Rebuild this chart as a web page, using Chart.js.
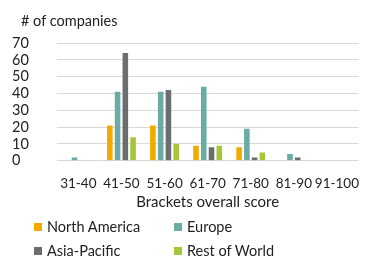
<!DOCTYPE html>
<html>
<head>
<meta charset="utf-8">
<script src="https://cdn.jsdelivr.net/npm/chart.js@4"></script>
<style>
  html, body { margin: 0; padding: 0; background: #fff; }
  #wrap { position: relative; width: 366px; height: 258px; }
  #title { position: absolute; left: 21px; top: 11px; font: 14.5px Lato, sans-serif; color: #222; line-height: 20px; white-space: nowrap; }
  #legend { position: absolute; left: 34px; top: 217px; width: 330px; font: 14.5px Lato, sans-serif; color: #222; }
  .item { position: absolute; display: flex; align-items: center; white-space: nowrap; line-height: 20px; }
  .box { width: 8px; height: 8px; margin-right: 5px; }
</style>
</head>
<body>
<div id="wrap">
  <canvas id="chart" width="366" height="258"></canvas>
  <div id="title"># of companies</div>
  <div id="legend"></div>
</div>
<script>
// Score brackets and number of companies per region
const brackets = ['31-40', '41-50', '51-60', '61-70', '71-80', '81-90', '91-100'];
const northAmerica = [0, 21, 21, 9, 8, 0, 0];
const europe = [2, 41, 41, 44, 19, 4, 0];
const asiaPacific = [0, 64, 42, 8, 2, 2, 0];
const restOfWorld = [0, 14, 10, 9, 5, 0, 0];
const yTicks = [0, 10, 20, 30, 40, 50, 60, 70];

const colors = {
    na: '#f2a900',
    eu: '#6aaca5',
    ap: '#6b6d6e',
    row: '#a6c63a'
};

const yFont = { family: 'Lato, sans-serif', size: 14.5 };
const xFont = { family: 'Lato, sans-serif', size: 13.5 };
const titleFont = { family: 'Lato, sans-serif', size: 15 };

const datasets = [
    { label: 'North America', data: northAmerica, backgroundColor: colors.na },
    { label: 'Europe', data: europe, backgroundColor: colors.eu },
    { label: 'Asia-Pacific', data: asiaPacific, backgroundColor: colors.ap },
    { label: 'Rest of World', data: restOfWorld, backgroundColor: colors.row }
];

const chart = new Chart(document.getElementById('chart'), {
    type: 'bar',
    data: { labels: brackets, datasets: datasets },
    options: {
        responsive: false,
        animation: false,
        layout: { padding: { left: 12, right: 0, top: 43, bottom: 47 } },
        datasets: { bar: { categoryPercentage: 0.72, barPercentage: 0.72 } },
        plugins: {
            legend: { display: false },
            tooltip: { enabled: false }
        },
        scales: {
            y: {
                min: 0,
                max: 70,
                afterBuildTicks: (axis) => { axis.ticks = yTicks.map(v => ({ value: v })); },
                border: { display: false },
                grid: { color: '#d9d9d9', drawTicks: false },
                ticks: { color: '#222', font: yFont, padding: 14, crossAlign: 'far', autoSkip: false }
            },
            x: {
                border: { display: false },
                grid: { display: false },
                ticks: { color: '#222', font: xFont, padding: 7, maxRotation: 0, autoSkip: false },
                title: { display: true, text: 'Brackets overall score', color: '#222', font: titleFont, padding: { top: -6, bottom: 0 } }
            }
        }
    }
});

// Two-column legend below the chart
const legend = document.getElementById('legend');
datasets.forEach((ds, i) => {
    const item = document.createElement('div');
    item.className = 'item';
    item.style.left = (i % 2 === 0 ? 0 : 140) + 'px';
    item.style.top = (Math.floor(i / 2) * 24) + 'px';
    item.innerHTML = '<span class="box" style="background:' + ds.backgroundColor + '"></span>' + ds.label;
    legend.appendChild(item);
});
</script>
</body>
</html>
